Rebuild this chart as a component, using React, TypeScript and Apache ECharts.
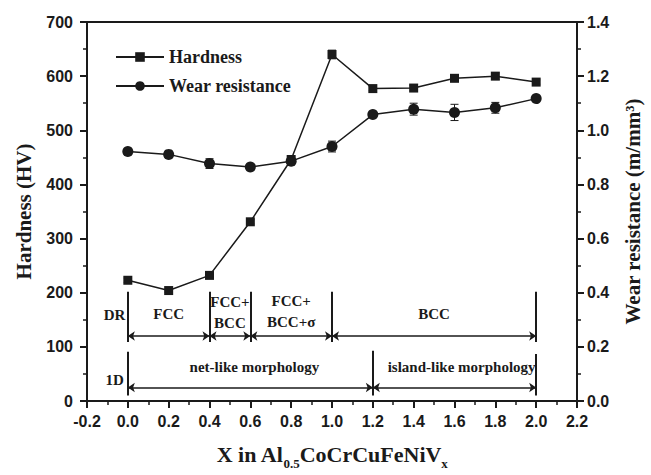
import React, { useEffect, useRef } from "react";
import * as echarts from "echarts";

const xValues = [0, 0.2, 0.4, 0.6, 0.8, 1.0, 1.2, 1.4, 1.6, 1.8, 2.0];
const hardness = [223, 204, 232, 331, 446, 640, 577, 578, 596, 600, 589];
const hardnessErr = [4, 3, 4, 4, 5, 8, 4, 5, 4, 6, 4];
const wear = [0.922, 0.911, 0.877, 0.864, 0.886, 0.94, 1.058, 1.078, 1.066, 1.083, 1.117];
const wearErr = [0.01, 0.01, 0.018, 0.01, 0.01, 0.02, 0.01, 0.022, 0.03, 0.02, 0.01];

// phase annotation (DR row) in data coords (x, HV)
const drBounds = [0, 0.4, 0.6, 1.0, 2.0];
const drLineTop = 202;
const drLineBottom = 109;
const drArrowY = 120;
const drLabels = [
  { text: "DR", x: -0.065, y: 158 },
  { text: "FCC", x: 0.2, y: 160 },
  { text: "FCC+\nBCC", x: 0.5, y: 163 },
  { text: "FCC+\nBCC+σ", x: 0.8, y: 166 },
  { text: "BCC", x: 1.5, y: 160 },
];
// morphology annotation (1D row)
const idBounds = [0, 1.2, 2.0];
const idLineTops = [91, 93, 87];
const idLineBottom = 10;
const idArrowY = 25;
const idLabels = [
  { text: "1D", x: -0.065, y: 38 },
  { text: "net-like morphology", x: 0.62, y: 62 },
  { text: "island-like morphology", x: 1.635, y: 62 },
];

const INK = "#1a1a1a";
const SERIF = "'Liberation Serif', 'Times New Roman', serif";
const SANS = "'Liberation Sans', Arial, sans-serif";

function errorBarSeries(ys: number[], errs: number[], yAxisIndex: number) {
  return {
    type: "custom",
    yAxisIndex,
    z: 1,
    silent: true,
    data: xValues.map((x, i) => [x, ys[i], errs[i]]),
    encode: { x: 0, y: 1 },
    renderItem: (params: any, api: any) => {
      const x = api.value(0);
      const y = api.value(1);
      const e = api.value(2);
      const top = api.coord([x, y + e]);
      const bot = api.coord([x, y - e]);
      const hw = 4;
      const st = { stroke: INK, lineWidth: 1 };
      return {
        type: "group",
        children: [
          { type: "line", shape: { x1: top[0], y1: top[1], x2: bot[0], y2: bot[1] }, style: st },
          { type: "line", shape: { x1: top[0] - hw, y1: top[1], x2: top[0] + hw, y2: top[1] }, style: st },
          { type: "line", shape: { x1: bot[0] - hw, y1: bot[1], x2: bot[0] + hw, y2: bot[1] }, style: st },
        ],
      };
    },
  };
}

export default function App() {
  const ref = useRef<HTMLDivElement>(null);
  useEffect(() => {
    if (!ref.current) return;
    const chart = echarts.init(ref.current, undefined, { renderer: "svg" });

    const arrows: any[] = [];
    for (let i = 0; i < drBounds.length - 1; i++) {
      arrows.push([{ coord: [drBounds[i], drArrowY] }, { coord: [drBounds[i + 1], drArrowY] }]);
    }
    for (let i = 0; i < idBounds.length - 1; i++) {
      arrows.push([{ coord: [idBounds[i], idArrowY] }, { coord: [idBounds[i + 1], idArrowY] }]);
    }
    const verticals: any[] = [];
    drBounds.forEach((b) => verticals.push([{ coord: [b, drLineTop] }, { coord: [b, drLineBottom] }]));
    idBounds.forEach((b, i) => verticals.push([{ coord: [b, idLineTops[i]] }, { coord: [b, idLineBottom] }]));

    const labelPoints = [...drLabels, ...idLabels].map((l) => ({
      name: l.text,
      coord: [l.x, l.y],
    }));

    const axisCommon = {
      axisLine: { show: true, onZero: false, lineStyle: { color: INK, width: 2 } },
      axisTick: { show: true, inside: false, length: 7, lineStyle: { color: INK, width: 2 } },
      minorTick: { show: true, splitNumber: 2, length: 4, lineStyle: { color: INK, width: 1.5 } },
      splitLine: { show: false },
      axisLabel: { color: INK, fontFamily: SANS, fontWeight: "bold", fontSize: 16 },
    };

    chart.setOption({
      animation: false,
      backgroundColor: "#fff",
      grid: { left: 87, right: 68, top: 22, bottom: 67, show: true, borderColor: INK, borderWidth: 2 },
      legend: {
        orient: "vertical",
        left: 115,
        top: 48,
        padding: 0,
        itemWidth: 48,
        itemHeight: 12,
        itemGap: 11,
        data: ["Hardness", "Wear resistance"],
        textStyle: { color: INK, fontFamily: SERIF, fontWeight: "bold", fontSize: 18 },
      },
      xAxis: {
        type: "value",
        min: -0.2,
        max: 2.2,
        interval: 0.2,
        ...axisCommon,
        axisLabel: { ...axisCommon.axisLabel, margin: 12, formatter: (v: number) => v.toFixed(1) },
        name: "{a|X in Al}{s|0.5}{a|CoCrCuFeNiV}{s|x}",
        nameLocation: "middle",
        nameGap: 42,
        nameTextStyle: {
          rich: {
            a: { fontFamily: SERIF, fontWeight: "bold", fontSize: 22, color: INK, verticalAlign: "bottom", padding: [0, 0, 5, 0] },
            s: { fontFamily: SERIF, fontWeight: "bold", fontSize: 13, color: INK, verticalAlign: "bottom" },
          },
        },
      },
      yAxis: [
        {
          type: "value",
          min: 0,
          max: 700,
          interval: 100,
          ...axisCommon,
          axisLabel: { ...axisCommon.axisLabel, margin: 14 },
          name: "Hardness (HV)",
          nameLocation: "middle",
          nameGap: 53,
          nameRotate: 90,
          nameTextStyle: { fontFamily: SERIF, fontWeight: "bold", fontSize: 21, color: INK },
        },
        {
          type: "value",
          min: 0,
          max: 1.4,
          interval: 0.2,
          position: "right",
          ...axisCommon,
          axisLabel: { ...axisCommon.axisLabel, margin: 10, formatter: (v: number) => v.toFixed(1) },
          name: "Wear resistance (m/mm³)",
          nameLocation: "middle",
          nameGap: 45,
          nameRotate: 90,
          nameTextStyle: { fontFamily: SERIF, fontWeight: "bold", fontSize: 21, color: INK },
        },
      ],
      series: [
        errorBarSeries(hardness, hardnessErr, 0),
        errorBarSeries(wear, wearErr, 1),
        {
          name: "Hardness",
          type: "line",
          yAxisIndex: 0,
          z: 3,
          data: xValues.map((x, i) => [x, hardness[i]]),
          symbol: "rect",
          symbolSize: 9,
          itemStyle: { color: INK },
          lineStyle: { color: INK, width: 1.5 },
        },
        {
          name: "Wear resistance",
          type: "line",
          yAxisIndex: 1,
          z: 3,
          data: xValues.map((x, i) => [x, wear[i]]),
          symbol: "circle",
          symbolSize: 11,
          itemStyle: { color: INK },
          lineStyle: { color: INK, width: 1.5 },
        },
        {
          name: "annotations",
          type: "line",
          yAxisIndex: 0,
          data: [],
          silent: true,
          markLine: {
            silent: true,
            symbol: ["arrow", "arrow"],
            symbolSize: [7, 7],
            label: { show: false },
            lineStyle: { color: INK, width: 1.5, type: "solid" },
            data: arrows,
          },
        },
        {
          name: "annotations2",
          type: "line",
          yAxisIndex: 0,
          data: [],
          silent: true,
          markLine: {
            silent: true,
            symbol: ["none", "none"],
            label: { show: false },
            lineStyle: { color: INK, width: 2, type: "solid" },
            data: verticals,
          },
          markPoint: {
            silent: true,
            symbol: "circle",
            symbolSize: 0,
            label: {
              show: true,
              position: "inside",
              color: INK,
              fontFamily: SERIF,
              fontWeight: "bold",
              fontSize: 15,
              lineHeight: 21,
              align: "center",
              formatter: (p: any) => p.name,
            },
            data: labelPoints,
          },
        },
      ],
    });
    return () => chart.dispose();
  }, []);
  return <div ref={ref} style={{ position: "fixed", left: 0, top: 0, width: 651, height: 475 }} />;
}
